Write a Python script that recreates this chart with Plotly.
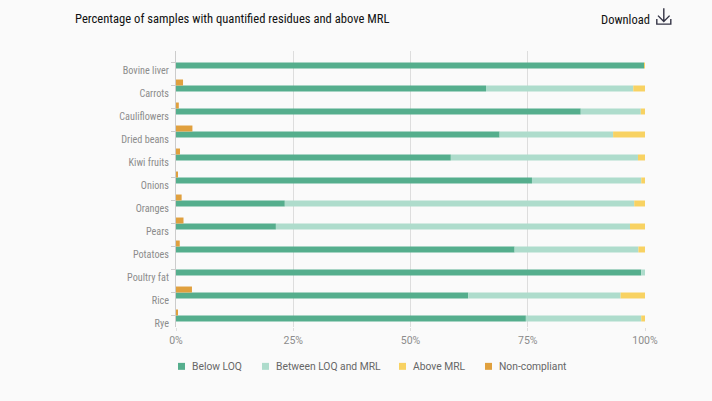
import plotly.graph_objects as go

categories = ["Bovine liver", "Carrots", "Cauliflowers", "Dried beans", "Kiwi fruits", "Onions",
              "Oranges", "Pears", "Potatoes", "Poultry fat", "Rice", "Rye"]
below_loq = [99.8, 66.1, 86.3, 69.0, 58.6, 75.9, 23.2, 21.3, 72.2, 99.2, 62.3, 74.6]
between = [0.0, 31.4, 12.8, 24.2, 39.9, 23.3, 74.5, 75.5, 26.4, 0.8, 32.5, 24.6]
above_mrl = [0.2, 2.5, 0.9, 6.8, 1.5, 0.8, 2.3, 3.2, 1.4, 0.0, 5.2, 0.8]
non_compliant = [0.0, 1.5, 0.6, 3.5, 0.85, 0.4, 1.2, 1.6, 0.8, 0.0, 3.4, 0.35]
x_ticks = [0, 25, 50, 75, 100]
x_labels = ["0%", "25%", "50%", "75%", "100%"]
series_names = ["Below LOQ", "Between LOQ and MRL", "Above MRL", "Non-compliant"]
series_colors = ["#55ae8d", "#aedccc", "#f8d262", "#e0a03e"]
legend_x = [178, 262, 399, 485]

W, H = 712, 401
L, R, T, B = 176, 645, 50.5, 327.5
BAR = 0.26
GREY = "#8c8c8c"
NARROW = "Roboto Condensed, Roboto"
base2 = below_loq
base3 = [a + b for a, b in zip(below_loq, between)]


def nx(x):
    return (x - L) / (R - L)


def ny(y):
    return (B - y) / (B - T)


fig = go.Figure()
fig.add_bar(name=series_names[0], y=categories, x=below_loq, orientation="h", marker_color=series_colors[0],
            width=BAR, offset=0, marker_line_width=0)
fig.add_bar(name=series_names[1], y=categories, x=between, base=base2, orientation="h",
            marker_color=series_colors[1], width=BAR, offset=0, marker_line_width=0)
fig.add_bar(name=series_names[2], y=categories, x=above_mrl, base=base3, orientation="h",
            marker_color=series_colors[2], width=BAR, offset=0, marker_line_width=0)
fig.add_bar(name=series_names[3], y=categories, x=non_compliant, orientation="h",
            marker_color=series_colors[3], width=BAR, offset=-BAR, marker_line_width=0)

annotations = [
    dict(text="Percentage of samples with quantified residues and above MRL", xref="paper", yref="paper",
         x=nx(74), y=ny(18), xanchor="left", yanchor="middle", showarrow=False, xshift=-1,
         font=dict(family=NARROW, size=12.6, color="#111111")),
    dict(text="Download", xref="paper", yref="paper",
         x=nx(652), y=ny(19), xanchor="right", yanchor="middle", showarrow=False,
         font=dict(family=NARROW, size=12.5, color="#111111")),
]
shapes = [
    dict(type="path", xref="paper", yref="paper", line=dict(color="#333344", width=1.4),
         path="M {} {} L {} {} M {} {} L {} {} L {} {} M {} {} L {} {} L {} {} L {} {}".format(
             nx(663.8), ny(7.5), nx(663.8), ny(21),
             nx(658), ny(15), nx(663.8), ny(21), nx(669.6), ny(15),
             nx(656.8), ny(18.5), nx(656.8), ny(23.5), nx(670.8), ny(23.5), nx(670.8), ny(18.5))),
]
for name, color, lx in zip(series_names, series_colors, legend_x):
    shapes.append(dict(type="rect", xref="paper", yref="paper", x0=nx(lx), x1=nx(lx + 7), y0=ny(370.5), y1=ny(363.5),
                       fillcolor=color, line_width=0))
    annotations.append(dict(text=name, xref="paper", yref="paper", x=nx(lx + 14), y=ny(367), xanchor="left",
                            yanchor="middle", showarrow=False, xshift=-2,
                            font=dict(family="Roboto", size=10.3, color="#666666")))

fig.update_layout(
    width=W, height=H, barmode="overlay",
    paper_bgcolor="#fafafa", plot_bgcolor="#fafafa",
    margin=dict(l=L, r=W - R, t=T, b=H - B, pad=0),
    font=dict(family="Roboto", size=11, color=GREY),
    showlegend=False,
    xaxis=dict(range=[0, 100], tickvals=x_ticks, ticktext=x_labels, showgrid=True, gridcolor="#dddddd",
               gridwidth=1, zeroline=False, ticks="outside", ticklen=3, tickcolor="#dddddd",
               showline=False, tickfont=dict(size=10.5, color=GREY)),
    yaxis=dict(autorange=False, range=[11.5, -0.5], type="category", showgrid=False, zeroline=False,
               showline=True, linecolor="#cccccc", linewidth=1, ticks="outside", ticklen=4,
               tickcolor="#cccccc", tickfont=dict(family=NARROW, size=10.2, color=GREY), ticklabelshift=-8,
               ticklabelstandoff=0),
    annotations=annotations,
    shapes=shapes,
)

fig.write_html("out.html", config={"displayModeBar": False},
               post_script="document.body.style.margin='0';document.body.style.overflow='hidden';document.body.style.background='#fafafa';document.querySelectorAll('text').forEach(function(t){if(t.style.fontFamily.indexOf('Condensed')>=0){t.style.fontStretch='75%';}});")
